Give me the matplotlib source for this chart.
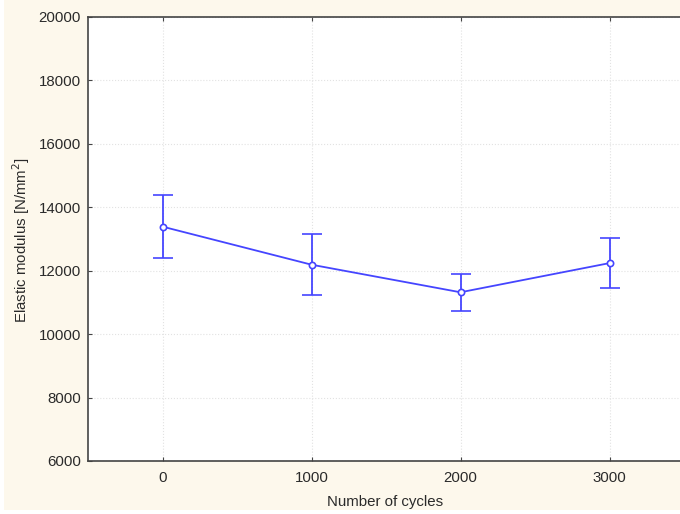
import matplotlib
matplotlib.use("Agg")
import matplotlib.pyplot as plt
from matplotlib.patches import Rectangle

cycles = [0, 1000, 2000, 3000]
modulus = [13390, 12190, 11320, 12240]
err_low = [990, 960, 590, 790]
err_high = [1000, 970, 590, 790]
xticks = [0, 1000, 2000, 3000]
yticks = [6000, 8000, 10000, 12000, 14000, 16000, 18000, 20000]

plt.rcParams['font.family'] = ['Liberation Sans', 'DejaVu Sans']
fig = plt.figure(figsize=(6.8, 5.14), dpi=100, facecolor='#FDF8EC')
fig.patches.append(Rectangle((0, 0), 4/680, 1, transform=fig.transFigure,
                             facecolor='white', edgecolor='none', zorder=0))
fig.patches.append(Rectangle((0, 0), 1, 4/514, transform=fig.transFigure,
                             facecolor='white', edgecolor='none', zorder=0))
ax = fig.add_axes([88/680, 1 - 461/514, 596/680, 444/514])
ax.set_facecolor('white')
color = '#4545FF'
ax.errorbar(cycles, modulus, yerr=[err_low, err_high], color=color, lw=1.3,
            marker='o', ms=4.5, mfc='white', mec=color, mew=1.2,
            capsize=7, capthick=1.3, elinewidth=1.3, zorder=3)
ax.set_xlim(-500, 3500)
ax.set_ylim(6000, 20000)
ax.set_xticks(xticks)
ax.set_yticks(yticks)
ax.grid(True, color='#E2E2E2', lw=0.8, linestyle=':')
ax.tick_params(axis='both', labelsize=10.8, colors='#444444', length=3,
               direction='in', top=True, right=True, labelcolor='#2a2a2a')
ax.tick_params(axis='x', pad=7.5)
ax.tick_params(axis='y', pad=5)
for s in ax.spines.values():
    s.set_color('#444444')
    s.set_linewidth(1.2)
ax.set_xlabel('Number of cycles', fontsize=10.8, color='#2a2a2a', va='center')
ax.set_ylabel('Elastic modulus [N/mm$^2$]', fontsize=10.8, color='#2a2a2a', va='center')
ax.xaxis.set_label_coords(0.5 - 1/596, (461 - 502) / 444)
ax.yaxis.set_label_coords((21 - 88) / 596, (461 - 240) / 444)
fig.savefig('out.png', dpi=100, facecolor=fig.get_facecolor())
